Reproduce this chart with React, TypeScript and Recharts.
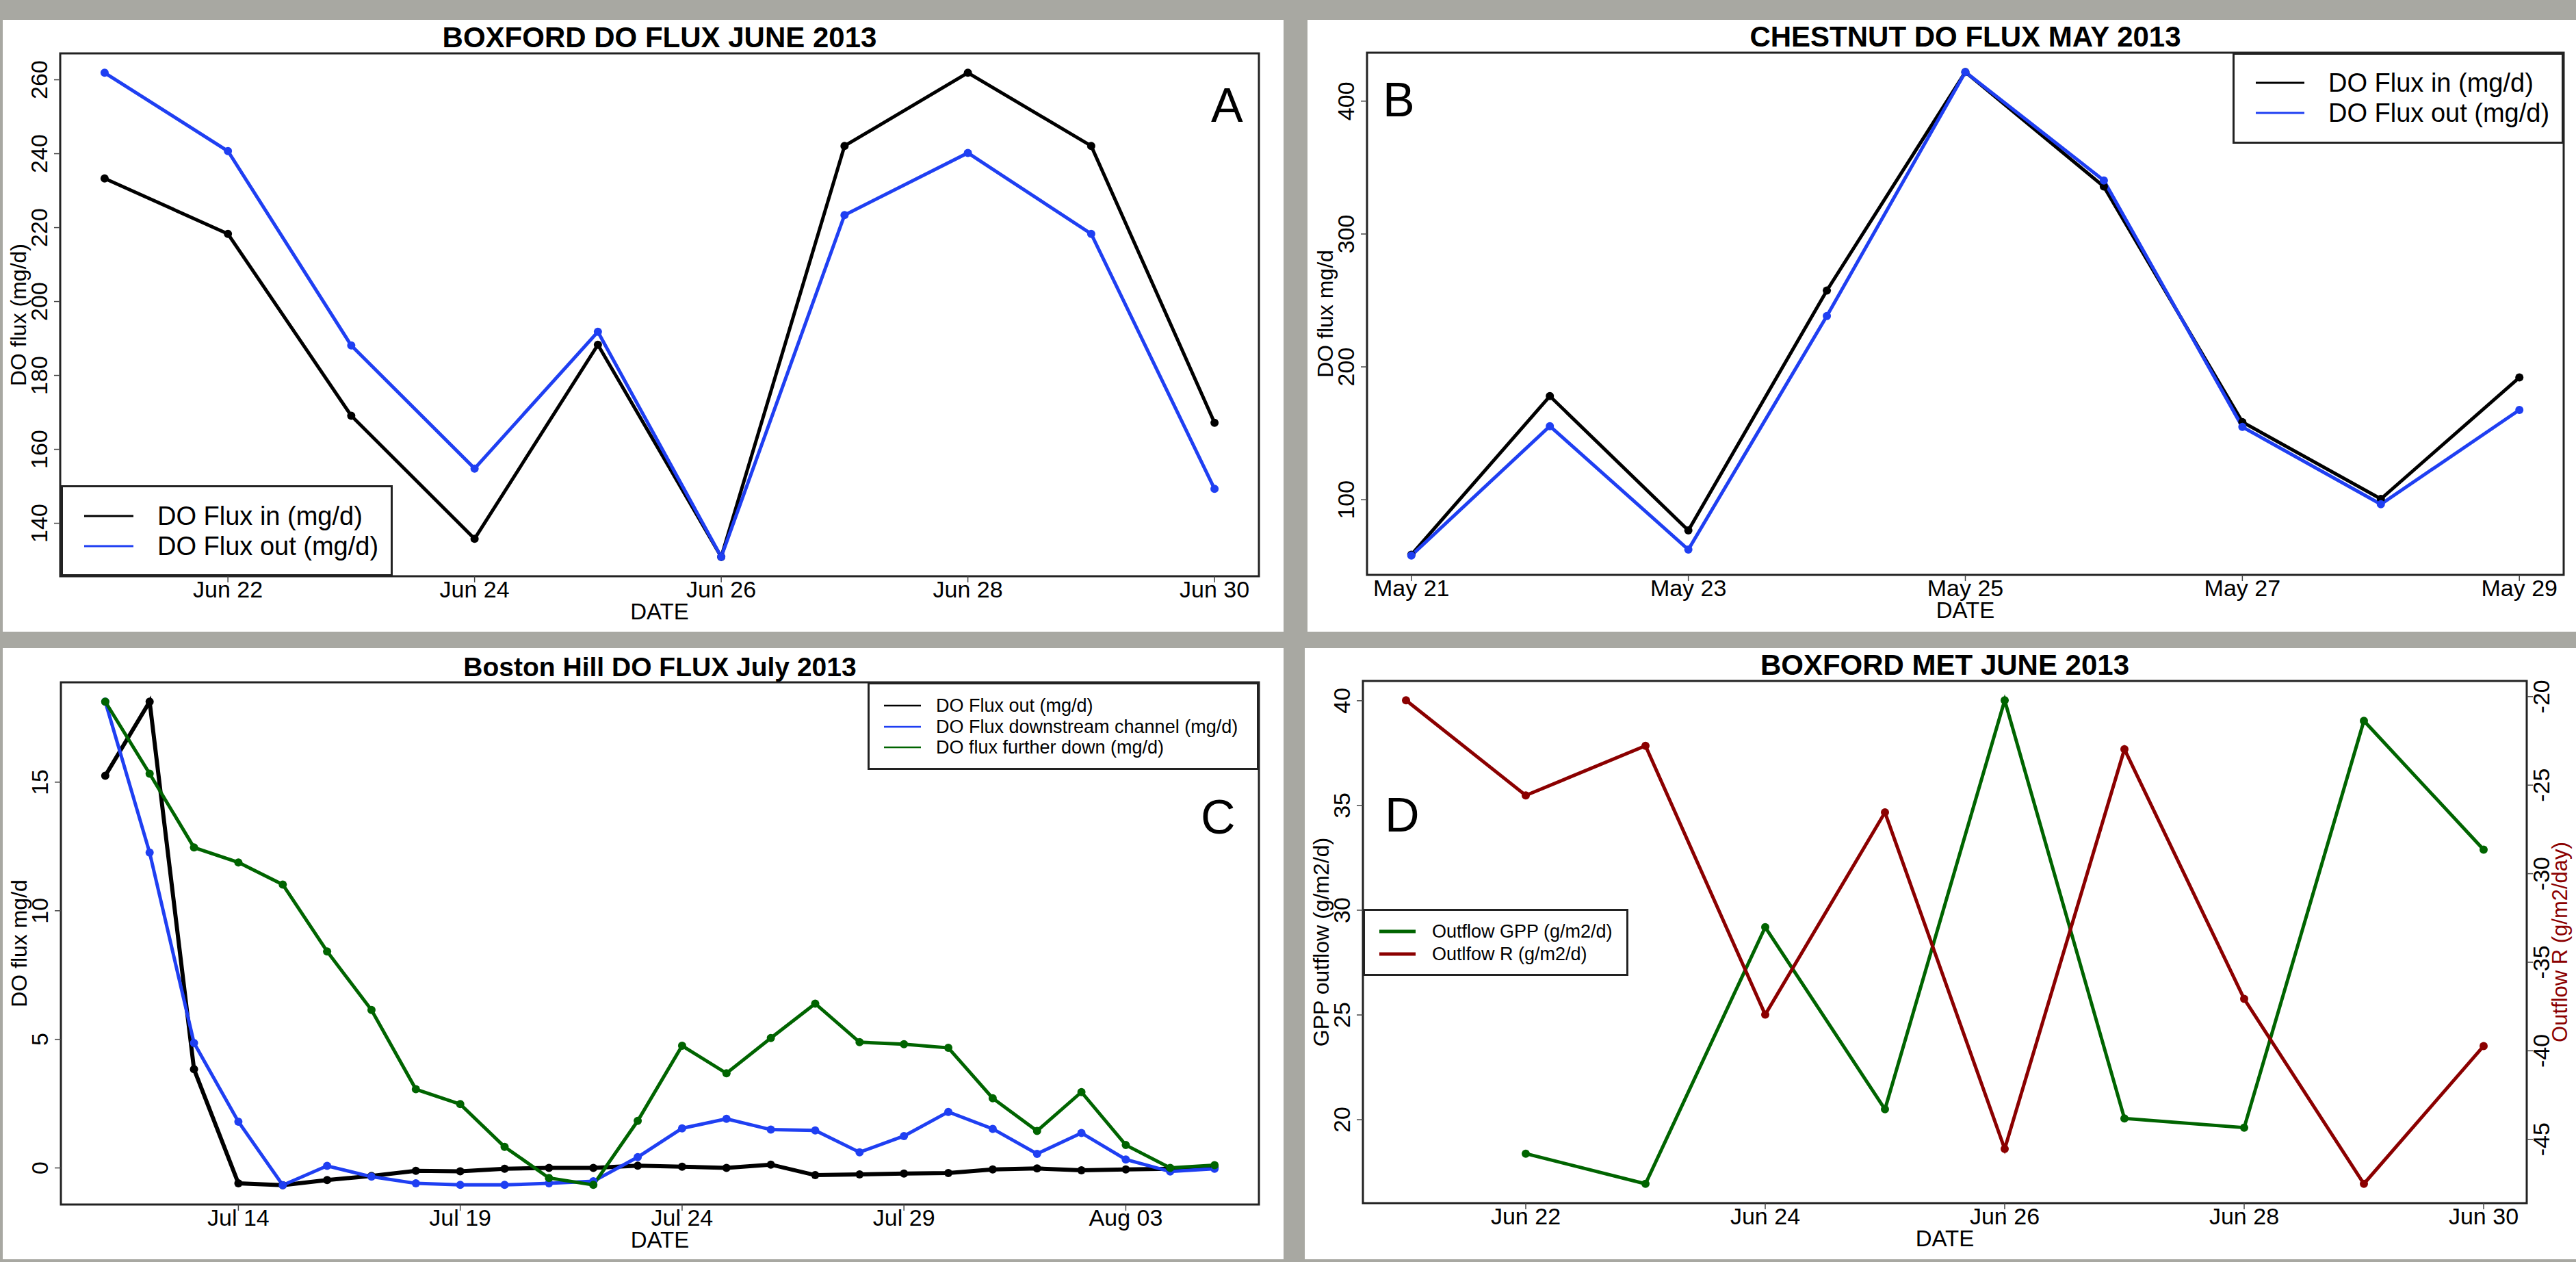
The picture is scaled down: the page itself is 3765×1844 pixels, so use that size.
import React from "react";
import { LineChart, Line, XAxis, YAxis, ReferenceArea, Legend } from "recharts";

const FONT = "'Liberation Sans', Arial, Helvetica, sans-serif";
const BLUE = "#1f3ff2";
const GREEN = "#006400";
const RED = "#8b0000";

// A: Boxford DO flux, June 2013
const boxfordDates = ["Jun 21", "Jun 22", "Jun 23", "Jun 24", "Jun 25", "Jun 26", "Jun 27", "Jun 28", "Jun 29", "Jun 30"];
const boxfordTicks = ["Jun 22", "Jun 24", "Jun 26", "Jun 28", "Jun 30"];
const boxfordIn = [233.3, 218.3, 169.1, 135.8, 188.3, 130.9, 242.1, 261.9, 242.1, 167.2];
const boxfordOut = [261.9, 240.7, 188.1, 154.8, 191.8, 130.9, 223.4, 240.2, 218.3, 149.3];
const boxfordY = [140, 160, 180, 200, 220, 240, 260];

// B: Chestnut DO flux, May 2013
const chestnutDates = ["May 21", "May 22", "May 23", "May 24", "May 25", "May 26", "May 27", "May 28", "May 29"];
const chestnutTicks = ["May 21", "May 23", "May 25", "May 27", "May 29"];
const chestnutIn = [58.6, 178, 76.9, 257.5, 421.9, 335.7, 158.5, 100.6, 192];
const chestnutOut = [58, 155.4, 62.5, 238.3, 421.9, 340.3, 154.8, 96.6, 167.6];
const chestnutY = [100, 200, 300, 400];

// C: Boston Hill DO flux, July 2013
const bostonDates = [
  "Jul 11", "Jul 12", "Jul 13", "Jul 14", "Jul 15", "Jul 16", "Jul 17", "Jul 18", "Jul 19",
  "Jul 20", "Jul 21", "Jul 22", "Jul 23", "Jul 24", "Jul 25", "Jul 26", "Jul 27", "Jul 28",
  "Jul 29", "Jul 30", "Jul 31", "Aug 01", "Aug 02", "Aug 03", "Aug 04", "Aug 05",
];
const bostonTicks = ["Jul 14", "Jul 19", "Jul 24", "Jul 29", "Aug 03"];
const bostonOut = [
  15.25, 18.13, 3.84, -0.6, -0.67, -0.47, -0.31, -0.11, -0.13, -0.03, 0, 0, 0.09,
  0.05, 0, 0.13, -0.28, -0.25, -0.22, -0.2, -0.06, -0.02, -0.09, -0.06, -0.03, 0.03,
];
const bostonDownstream = [
  18.13, 12.26, 4.86, 1.8, -0.67, 0.08, -0.34, -0.6, -0.66, -0.66, -0.6, -0.52, 0.42,
  1.54, 1.91, 1.49, 1.46, 0.61, 1.24, 2.18, 1.52, 0.55, 1.36, 0.33, -0.14, -0.03,
];
const bostonFurther = [
  18.13, 15.33, 12.46, 11.88, 11.02, 8.42, 6.14, 3.06, 2.48, 0.82, -0.39, -0.66, 1.83,
  4.75, 3.68, 5.05, 6.39, 4.89, 4.81, 4.67, 2.71, 1.44, 2.95, 0.89, 0, 0.11,
];
const bostonY = [0, 5, 10, 15];

// D: Boxford metabolism, June 2013
const metDates = ["Jun 21", "Jun 22", "Jun 23", "Jun 24", "Jun 25", "Jun 26", "Jun 27", "Jun 28", "Jun 29", "Jun 30"];
const metTicks = ["Jun 22", "Jun 24", "Jun 26", "Jun 28", "Jun 30"];
const metGpp = [null, 18.38, 16.94, 29.19, 20.5, 40.02, 20.06, 19.62, 39.04, 32.89];
const metR = [-20.21, -25.58, -22.78, -37.96, -26.54, -45.54, -22.97, -37.07, -47.51, -39.73];
const metYLeft = [20, 25, 30, 35, 40];
const metYRight = [-45, -40, -35, -30, -25, -20];

// R style axis range: data range plus 4% each side
function rRange(...lists: (number | null)[][]): [number, number] {
  const v = lists.flat().filter((d): d is number => d !== null);
  const lo = Math.min(...v);
  const hi = Math.max(...v);
  const pad = (hi - lo) * 0.04;
  return [lo - pad, hi + pad];
}

type Series = { key: string; name: string; values: (number | null)[]; color: string; width: number; axis?: string };
type LegendCfg = { x: number; y: number; w: number; h: number; rows: number[]; lineX: [number, number]; textX: number; size: number; lw: number };
type Box = { x: number; y: number; w: number; h: number };
type Plot = { x1: number; x2: number; y1: number; y2: number };

type PanelProps = {
  box: Box;
  plot: Plot;
  dates: string[];
  ticks: string[];
  series: Series[];
  yTicks: number[];
  yTicksRight?: number[];
  title: string;
  titleSize: number;
  letter: string;
  letterPos: [number, number];
  yLabel: string;
  yLabelRight?: string;
  legend: LegendCfg;
};

const XW = 60;
const YW = 60;
const TICK_FS = 34;

function Panel(p: PanelProps) {
  const { box, plot } = p;
  const n = p.dates.length;
  const xDomain: [number, number] = [-(n - 1) * 0.04, (n - 1) * 1.04];
  const leftSeries = p.series.filter((s) => s.axis !== "right");
  const rightSeries = p.series.filter((s) => s.axis === "right");
  const yDomain = rRange(...leftSeries.map((s) => s.values));
  const yDomainRight = rightSeries.length ? rRange(...rightSeries.map((s) => s.values)) : undefined;
  const data = p.dates.map((d, i) => {
    const row: Record<string, number | string | null> = { i, date: d };
    p.series.forEach((s) => (row[s.key] = s.values[i]));
    return row;
  });
  const tickIdx = p.ticks.map((t) => p.dates.indexOf(t));
  const hasRight = !!p.yTicksRight;
  const margin = {
    left: plot.x1 - box.x - YW,
    right: box.x + box.w - plot.x2 - (hasRight ? YW : 0),
    top: plot.y1 - box.y,
    bottom: box.y + box.h - plot.y2 - XW,
  };
  const cx = (plot.x1 + plot.x2) / 2 - box.x;
  const cy = (plot.y1 + plot.y2) / 2 - box.y;
  const lg = p.legend;

  const xTick = (t: any) => (
    <text x={t.x} y={t.y + 22} textAnchor="middle" fontSize={TICK_FS} fontFamily={FONT} fill="#000">
      {p.dates[t.payload.value]}
    </text>
  );
  const yTickL = (t: any) => (
    <text transform={`translate(${t.x - 10},${t.y}) rotate(-90)`} textAnchor="middle" fontSize={TICK_FS} fontFamily={FONT} fill="#000">
      {t.payload.value}
    </text>
  );
  const yTickR = (t: any) => (
    <text transform={`translate(${t.x + 24},${t.y}) rotate(-90)`} textAnchor="middle" fontSize={TICK_FS} fontFamily={FONT} fill="#000">
      {t.payload.value}
    </text>
  );

  const legendContent = () => (
    <svg width={lg.w} height={lg.h} style={{ display: "block" }}>
      <rect x={1.5} y={1.5} width={lg.w - 3} height={lg.h - 3} fill="#fff" stroke="#222" strokeWidth={3} />
      {p.series.map((s, k) => (
        <g key={s.key}>
          <line x1={lg.lineX[0]} x2={lg.lineX[1]} y1={lg.rows[k]} y2={lg.rows[k]} stroke={s.color} strokeWidth={lg.lw} />
          <text x={lg.textX} y={lg.rows[k] + lg.size * 0.35} fontSize={lg.size} fontFamily={FONT} fill="#000">
            {s.name}
          </text>
        </g>
      ))}
    </svg>
  );

  return (
    <div style={{ position: "absolute", left: box.x, top: box.y, width: box.w, height: box.h, background: "#fff" }}>
      <LineChart width={box.w} height={box.h} data={data} margin={margin}>
        <XAxis
          dataKey="i"
          type="number"
          domain={xDomain}
          allowDataOverflow
          ticks={tickIdx}
          height={XW}
          axisLine={false}
          tickSize={9}
          tickMargin={0}
          tickLine={{ stroke: "#444", strokeWidth: 1.5 }}
          tick={xTick}
        />
        <YAxis
          yAxisId="left"
          type="number"
          domain={yDomain}
          allowDataOverflow
          ticks={p.yTicks}
          width={YW}
          axisLine={false}
          tickSize={9}
          tickMargin={0}
          tickLine={{ stroke: "#444", strokeWidth: 1.5 }}
          tick={yTickL}
        />
        {hasRight && (
          <YAxis
            yAxisId="right"
            orientation="right"
            type="number"
            domain={yDomainRight}
            allowDataOverflow
            ticks={p.yTicksRight}
            width={YW}
            axisLine={false}
            tickSize={9}
            tickMargin={0}
            tickLine={{ stroke: "#444", strokeWidth: 1.5 }}
            tick={yTickR}
          />
        )}
        <ReferenceArea
          yAxisId="left"
          x1={xDomain[0]}
          x2={xDomain[1]}
          y1={yDomain[0]}
          y2={yDomain[1]}
          fill="none"
          stroke="#222"
          strokeWidth={3}
          ifOverflow="visible"
        />
        {p.series.map((s) => (
          <Line
            key={s.key}
            yAxisId={s.axis === "right" ? "right" : "left"}
            type="linear"
            dataKey={s.key}
            name={s.name}
            stroke={s.color}
            strokeWidth={s.width}
            dot={{ r: 6, fill: s.color, stroke: s.color, strokeWidth: 0 }}
            activeDot={false}
            isAnimationActive={false}
          />
        ))}
        <Legend
          layout="vertical"
          align="center"
          verticalAlign="middle"
          wrapperStyle={{ left: lg.x - box.x, top: lg.y - box.y, width: lg.w, height: lg.h, margin: 0, padding: 0 }}
          content={legendContent}
        />
      </LineChart>
      <svg
        width={box.w}
        height={box.h}
        style={{ position: "absolute", left: 0, top: 0, pointerEvents: "none" }}
      >
        <text x={cx} y={plot.y1 - box.y - 9} textAnchor="middle" fontSize={p.titleSize} fontWeight="bold" fontFamily={FONT} fill="#000">
          {p.title}
        </text>
        <text x={cx} y={plot.y2 - box.y + 63} textAnchor="middle" fontSize={33} fontFamily={FONT} fill="#000">
          DATE
        </text>
        <text transform={`translate(${plot.x1 - box.x - 50},${cy}) rotate(-90)`} textAnchor="middle" fontSize={32} fontFamily={FONT} fill="#000">
          {p.yLabel}
        </text>
        {p.yLabelRight && (
          <text transform={`translate(${3752 - box.x},${cy}) rotate(-90)`} textAnchor="middle" fontSize={31} fontFamily={FONT} fill={RED}>
            {p.yLabelRight}
          </text>
        )}
        <text x={p.letterPos[0] - box.x} y={p.letterPos[1] - box.y} fontSize={70} fontFamily={FONT} fill="#000">
          {p.letter}
        </text>
      </svg>
    </div>
  );
}

export default function App() {
  return (
    <div style={{ position: "absolute", left: 0, top: 0, width: 3765, height: 1844, background: "#a8a8a2", overflow: "hidden" }}>
      <Panel
        box={{ x: 4, y: 29, w: 1872, h: 894 }}
        plot={{ x1: 88, x2: 1840, y1: 78, y2: 842 }}
        dates={boxfordDates}
        ticks={boxfordTicks}
        series={[
          { key: "in", name: "DO Flux in (mg/d)", values: boxfordIn, color: "#000", width: 5 },
          { key: "out", name: "DO Flux out (mg/d)", values: boxfordOut, color: BLUE, width: 5 },
        ]}
        yTicks={boxfordY}
        title="BOXFORD DO FLUX JUNE 2013"
        titleSize={42}
        letter="A"
        letterPos={[1770, 178]}
        yLabel="DO flux (mg/d)"
        legend={{ x: 89, y: 709, w: 485, h: 133, rows: [45, 89], lineX: [34, 106], textX: 141, size: 38, lw: 3 }}
      />
      <Panel
        box={{ x: 1911, y: 29, w: 1854, h: 894 }}
        plot={{ x1: 1998, x2: 3747, y1: 77, y2: 840 }}
        dates={chestnutDates}
        ticks={chestnutTicks}
        series={[
          { key: "in", name: "DO Flux in (mg/d)", values: chestnutIn, color: "#000", width: 5 },
          { key: "out", name: "DO Flux out (mg/d)", values: chestnutOut, color: BLUE, width: 5 },
        ]}
        yTicks={chestnutY}
        title="CHESTNUT DO FLUX MAY 2013"
        titleSize={42}
        letter="B"
        letterPos={[2021, 170]}
        yLabel="DO flux mg/d"
        legend={{ x: 3263, y: 77, w: 484, h: 133, rows: [44, 88], lineX: [34, 105], textX: 140, size: 38, lw: 3 }}
      />
      <Panel
        box={{ x: 4, y: 947, w: 1872, h: 893 }}
        plot={{ x1: 89, x2: 1840, y1: 997, y2: 1760 }}
        dates={bostonDates}
        ticks={bostonTicks}
        series={[
          { key: "out", name: "DO Flux out (mg/d)", values: bostonOut, color: "#000", width: 6 },
          { key: "down", name: "DO Flux downstream channel (mg/d)", values: bostonDownstream, color: BLUE, width: 5 },
          { key: "further", name: "DO flux further down (mg/d)", values: bostonFurther, color: GREEN, width: 5 },
        ]}
        yTicks={bostonY}
        title="Boston Hill DO FLUX July 2013"
        titleSize={39}
        letter="C"
        letterPos={[1755, 1218]}
        yLabel="DO flux mg/d"
        legend={{ x: 1268, y: 997, w: 572, h: 128, rows: [34, 65, 95], lineX: [24, 78], textX: 100, size: 27, lw: 2.5 }}
      />
      <Panel
        box={{ x: 1907, y: 947, w: 1858, h: 893 }}
        plot={{ x1: 1992, x2: 3693, y1: 995, y2: 1758 }}
        dates={metDates}
        ticks={metTicks}
        series={[
          { key: "gpp", name: "Outflow GPP (g/m2/d)", values: metGpp, color: GREEN, width: 5 },
          { key: "r", name: "Outlfow R (g/m2/d)", values: metR, color: RED, width: 5, axis: "right" },
        ]}
        yTicks={metYLeft}
        yTicksRight={metYRight}
        title="BOXFORD MET JUNE 2013"
        titleSize={42}
        letter="D"
        letterPos={[2024, 1215]}
        yLabel="GPP outflow (g/m2/d)"
        yLabelRight="Outflow R (g/m2/day)"
        legend={{ x: 1992, y: 1328, w: 388, h: 98, rows: [33, 66], lineX: [24, 77], textX: 101, size: 27, lw: 5 }}
      />
    </div>
  );
}
